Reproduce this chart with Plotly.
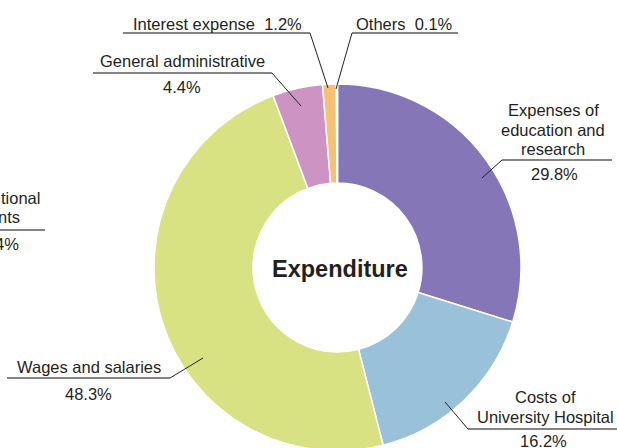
import plotly.graph_objects as go

# ---- data ----
categories = ["Expenses of education and research", "Costs of University Hospital",
              "Wages and salaries", "General administrative", "Interest expense", "Others"]
values = [29.8, 16.2, 48.3, 4.4, 1.2, 0.1]
colors = ["#8577b7", "#9ac1da", "#d9e282", "#cd94c3", "#f7c173", "#c9b28a"]
center_title = "Expenditure"

W, H = 617, 452
TXT = "#231f20"
FONT = "Liberation Sans, Arial, sans-serif"
FS = 16.5


def px(x):
    return x / W


def py(y):
    return 1 - y / H


fig = go.Figure()
fig.add_trace(go.Pie(
    labels=categories, values=values, sort=False, direction="clockwise", rotation=0,
    hole=0.46, marker=dict(colors=colors, line=dict(color="white", width=1.5)),
    textinfo="none", hoverinfo="skip", showlegend=False,
    domain=dict(x=[px(154), px(521)], y=[py(451), py(84)]),
))

annotations = []


def txt(s, x, y, xanchor="center", size=FS, weight="normal"):
    annotations.append(dict(text=s, x=px(x), y=py(y), xref="paper", yref="paper",
                            xanchor=xanchor, yanchor="middle", showarrow=False,
                            font=dict(family=FONT, size=size, color=TXT, weight=weight)))


# labels (text, center x, center y) in pixels
txt("Interest expense&nbsp;&nbsp;" + f"{values[4]}%", 217.5, 23.5)
txt("Others&nbsp;&nbsp;" + f"{values[5]}%", 404, 23.5)
txt("General administrative", 183, 61.5)
txt(f"{values[3]}%", 181.5, 86.5)
txt("Expenses of", 553, 110)
txt("education and", 553, 129.5)
txt("research", 553, 148.5)
txt(f"{values[0]}%", 554, 173.5)
txt("Costs of", 545, 396.5)
txt("University Hospital", 545, 416.5)
txt(f"{values[1]}%", 543, 440.5)
txt("Wages and salaries", 89, 366.5)
txt(f"{values[2]}%", 88, 393.5)
# partially visible label cut off at the left edge
txt("tional", 42, 198.5, xanchor="right")
txt("nts", 22, 216.5, xanchor="right")
txt("4%", 21, 243.5, xanchor="right")
# center title
txt(center_title, 339.5, 269, size=23.5, weight="bold")

shapes = []


def line(x0, y0, x1, y1, color, width):
    shapes.append(dict(type="line", xref="paper", yref="paper",
                       x0=px(x0), y0=py(y0), x1=px(x1), y1=py(y1),
                       line=dict(color=color, width=width)))


UL = "#5e5a5a"
# underlines
line(123, 33, 310, 33, UL, 1.5)
line(352, 33, 458, 33, UL, 1.5)
line(93, 73, 272, 73, UL, 1.5)
line(502, 160, 612, 160, UL, 1.5)
line(468, 429, 617, 429, UL, 1.5)
line(7, 378, 170, 378, UL, 1.5)
line(0, 230, 45, 230, UL, 1.5)
# leaders
line(310, 33, 328, 88, TXT, 1)
line(352, 33, 336, 89, TXT, 1)
line(272, 73, 301, 106, TXT, 1)
line(170, 378, 203, 358, TXT, 1)
line(502, 160, 482, 178, TXT, 1)
line(468, 429, 445, 402, TXT, 1)

fig.update_layout(width=W, height=H, margin=dict(l=0, r=0, t=0, b=0),
                  paper_bgcolor="white", plot_bgcolor="white",
                  annotations=annotations, shapes=shapes)
fig.write_html("out.html", config={"displayModeBar": False},
               post_script="document.body.style.margin='0';document.body.style.overflow='hidden';")
